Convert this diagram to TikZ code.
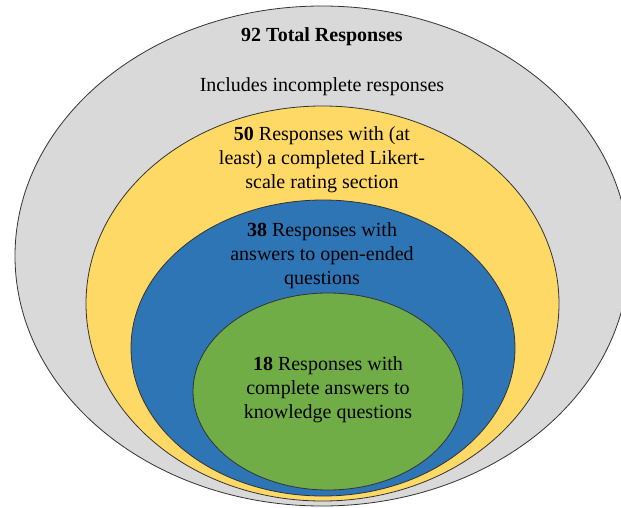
\documentclass[tikz,border=0pt]{standalone}
\usepackage{fontspec}
\setmainfont{Liberation Serif}
\usepackage{tikz}
\usetikzlibrary{calc}

\definecolor{allgrey}{RGB}{217,217,217}
\definecolor{likertyellow}{RGB}{255,217,102}
\definecolor{openblue}{RGB}{46,117,182}
\definecolor{knowgreen}{RGB}{112,173,71}

\tikzset{ring/.style={draw=black!80,line width=0.6pt},
  ringtext/.style={inner sep=0.75pt,align=center,font=\fontsize{15}{18}\selectfont}}

\begin{document}
\begin{tikzpicture}[x=0.75pt,y=0.75pt,yscale=-1,xscale=1]
\useasboundingbox (0,0) rectangle (621,507);
\clip (0,0) rectangle (621,507);

%Shape: Ellipse [id:dp0921] 
\draw [ring,fill=allgrey] (322,256) ellipse (307 and 250) ;
%Shape: Ellipse [id:dp0922] 
\draw [ring,fill=likertyellow] (322.5,303.5) ellipse (236.5 and 197.5) ;
%Shape: Ellipse [id:dp0923] 
\draw [ring,fill=openblue] (323,348) ellipse (192 and 148) ;
%Shape: Ellipse [id:dp0924] 
\draw [ring,fill=knowgreen] (328,391.5) ellipse (135 and 98.5) ;

% Text Node
\draw (322,37) node [ringtext] (total) {\textbf{92 Total Responses}};
% Text Node
\draw (322,87) node [ringtext] (incl) {Includes incomplete responses};
% Text Node
\draw (322,160) node [ringtext] (likert) {\textbf{50} Responses with (at\\least) a completed Likert-\\scale rating section};
% Text Node
\draw (322,256) node [ringtext] (open) {\textbf{38} Responses with\\answers to open-ended\\questions};
% Text Node
\draw (328,390) node [ringtext] (know) {\textbf{18} Responses with\\complete answers to\\knowledge questions};
\end{tikzpicture}
\end{document}
